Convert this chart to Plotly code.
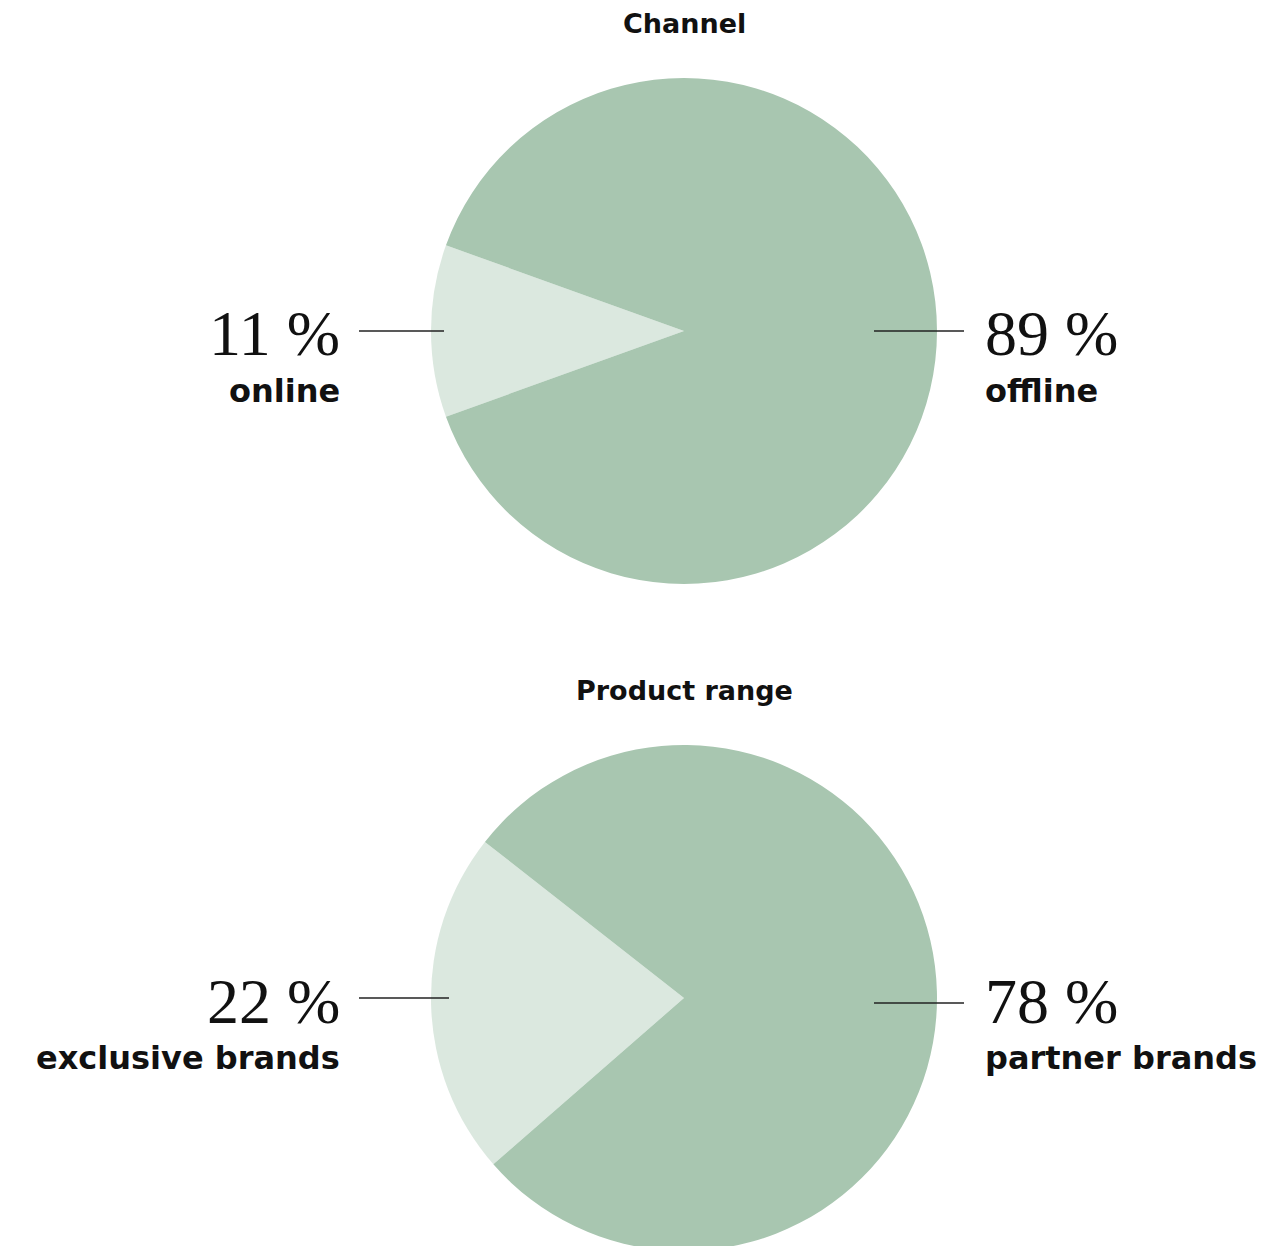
import plotly.graph_objects as go

# Data
channel_labels = ["online", "offline"]
channel_values = [11, 89]
range_labels = ["exclusive brands", "partner brands"]
range_values = [22, 78]
titles = ["Channel", "Product range"]

LIGHT = "#dbe8df"
DARK = "#a8c6b0"
W, H = 1283, 1252
CX = 684

def py(v):
    """pixel row from the top -> paper y"""
    return 1 - v / H

def px(v):
    return v / W

def start_angle(values, tilt=0.0):
    # centre the first (small) slice on 9 o'clock
    share = values[0] / sum(values)
    return 270 - share * 360 / 2 + tilt

fig = go.Figure()

pies = [
    (channel_labels, channel_values, 331, 0.0),
    (range_labels, range_values, 998, -1.5),
]
R = 253
for labels, values, cy, tilt in pies:
    fig.add_trace(go.Pie(
        labels=labels,
        values=values,
        sort=False,
        direction="clockwise",
        rotation=start_angle(values, tilt),
        marker=dict(colors=[LIGHT, DARK], line=dict(width=0)),
        textinfo="none",
        hoverinfo="label+percent",
        showlegend=False,
        domain=dict(x=[px(CX - R), px(CX + R)], y=[py(cy + R), py(cy - R)]),
    ))

annotations = []
shapes = []
NUM_FONT = dict(family="Liberation Serif", size=64, color="#111111")
LBL_FONT = dict(family="DejaVu Sans", size=32, color="#111111", weight="bold")

title_rows = [23, 690]
for t, row in zip(titles, title_rows):
    annotations.append(dict(text=f"<b>{t}</b>", x=px(CX), y=py(row), xref="paper", yref="paper",
                            showarrow=False, xanchor="center", yanchor="middle",
                            font=dict(family="DejaVu Sans", size=27, color="#111111")))

layout_rows = [
    (channel_labels, channel_values, 331, 331, 331, 444),
    (range_labels, range_values, 998, 998, 1003, 449),
]
for labels, values, cy, yl, yr, xl in layout_rows:
    # left (small share) label
    annotations.append(dict(text=f"{values[0]} %", x=px(342), y=py(cy + 3), xref="paper", yref="paper",
                            showarrow=False, xanchor="right", yanchor="middle", font=NUM_FONT))
    annotations.append(dict(text=f"<b>{labels[0]}</b>", x=px(342), y=py(cy + 60), xref="paper", yref="paper",
                            showarrow=False, xanchor="right", yanchor="middle", font=LBL_FONT))
    # right (large share) label
    annotations.append(dict(text=f"{values[1]} %", x=px(983), y=py(cy + 3), xref="paper", yref="paper",
                            showarrow=False, xanchor="left", yanchor="middle", font=NUM_FONT))
    annotations.append(dict(text=f"<b>{labels[1]}</b>", x=px(983), y=py(cy + 60), xref="paper", yref="paper",
                            showarrow=False, xanchor="left", yanchor="middle", font=LBL_FONT))
    # leader lines
    shapes.append(dict(type="line", xref="paper", yref="paper",
                       x0=px(359), x1=px(xl), y0=py(yl), y1=py(yl),
                       line=dict(color="#222222", width=1.5)))
    shapes.append(dict(type="line", xref="paper", yref="paper",
                       x0=px(874), x1=px(964), y0=py(yr), y1=py(yr),
                       line=dict(color="#222222", width=1.5)))

fig.update_layout(
    width=W, height=H,
    margin=dict(l=0, r=0, t=0, b=0),
    paper_bgcolor="white",
    plot_bgcolor="white",
    annotations=annotations,
    shapes=shapes,
)

fig.write_html("out.html", post_script="document.body.style.margin='0';document.body.style.overflow='hidden';")
